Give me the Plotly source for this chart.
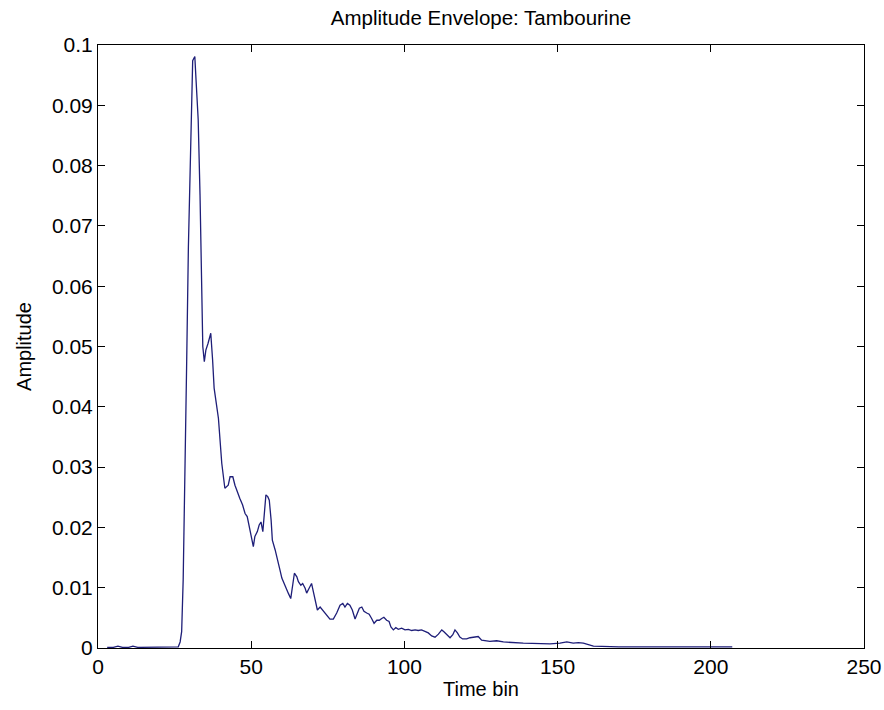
import plotly.graph_objects as go

time_bin = [3, 5, 6.5, 8, 10, 11.4, 13, 20, 26.2, 26.8, 27.3, 27.8, 28.4, 28.9, 29.5, 30.3, 30.9, 31.3, 31.6,
            32.0, 32.7, 33.3, 34.0, 34.2, 34.7, 35.2, 35.9, 36.8, 37.4, 37.9, 39.3, 40.4, 41.4, 42.5, 43.1,
            44.0, 44.7, 45.5, 46.3, 47.2, 48.0, 48.7, 49.4, 50.2, 50.7, 51.2, 52.0, 52.6, 53.2, 53.8, 54.3,
            54.8, 55.4, 55.9, 56.5, 56.9, 57.8, 58.5, 59.4, 60.0, 60.7, 61.4, 62.1, 62.9, 63.4, 64.1, 64.9,
            65.4, 66.2, 66.8, 67.6, 68.1, 68.9, 69.7, 70.3, 70.8, 71.6, 72.5, 73.3, 74.1, 74.8, 75.7, 76.8,
            77.9, 79.0, 79.9, 80.6, 81.4, 82.2, 83.0, 83.9, 84.6, 85.3, 86.1, 86.8, 87.7, 88.5, 89.3, 90.1,
            91.0, 91.8, 92.6, 93.3, 94.2, 95.0, 95.6, 96.4, 97.2, 98.0, 99.1, 100.2, 101.3, 102.4, 103.5,
            104.5, 105.6, 106.7, 107.8, 108.9, 110.0, 111.1, 112.2, 112.9, 113.8, 114.9, 115.8, 116.5, 117.3,
            118.1, 119.0, 120.3, 121.4, 123.0, 124.1, 125.2, 127.9, 130.1, 132.3, 138.8, 147.5, 150.8, 153.0,
            155.1, 156.8, 158.4, 161.7, 170, 180, 184, 186, 190, 194, 197, 200, 204, 207]

amplitude = [0.0001, 0.0001, 0.0003, 0.0001, 0.0001, 0.0003, 0.0001, 0.0001, 0.0002, 0.0010, 0.0027, 0.0113,
             0.0279, 0.0461, 0.0665, 0.0867, 0.0974, 0.0978, 0.0981,
             0.0942, 0.0876, 0.0751, 0.0597, 0.0500, 0.0475, 0.0494, 0.0505, 0.0522, 0.0478, 0.0431, 0.0381,
             0.0306, 0.0265, 0.0270, 0.0284,
             0.0284, 0.0270, 0.0257, 0.0248, 0.0237, 0.0223, 0.0218, 0.0201, 0.0185, 0.0168, 0.0185, 0.0193,
             0.0204, 0.0209, 0.0193, 0.0226,
             0.0254, 0.0251, 0.0245, 0.0212, 0.0179, 0.0163, 0.0146, 0.0129, 0.0116, 0.0107, 0.0099, 0.0091,
             0.0082, 0.0099, 0.0124, 0.0118,
             0.0110, 0.0104, 0.0107, 0.0099, 0.0091, 0.0099, 0.0107, 0.0093, 0.0080, 0.0063, 0.0068, 0.0063,
             0.0058, 0.0052, 0.0048, 0.0048,
             0.0058, 0.0071, 0.0074, 0.0068, 0.0074, 0.0071, 0.0063, 0.0048, 0.0058, 0.0066, 0.0068, 0.0061,
             0.0058, 0.0056, 0.0049, 0.0041,
             0.0046, 0.0046, 0.0049, 0.0051, 0.0046, 0.0044, 0.0035, 0.0030, 0.0034, 0.0031, 0.0033, 0.0030,
             0.0031, 0.0029, 0.0030,
             0.0029, 0.0030, 0.0027, 0.0025, 0.0020, 0.0018, 0.0023, 0.0030, 0.0027, 0.0022, 0.0017, 0.0022,
             0.0030, 0.0025,
             0.0018, 0.0015, 0.0015, 0.0017, 0.0018, 0.0019, 0.0013, 0.0011, 0.0012, 0.0010, 0.0008, 0.0007,
             0.0008, 0.0010,
             0.0008, 0.0009, 0.0008, 0.0003, 0.0002, 0.0002, 0.0003, 0.0002, 0.0003, 0.0003, 0.0002, 0.0003,
             0.0003, 0.0002]

x_ticks = [0, 50, 100, 150, 200, 250]
y_ticks = [0, 0.01, 0.02, 0.03, 0.04, 0.05, 0.06, 0.07, 0.08, 0.09, 0.1]
y_tick_labels = ["0", "0.01", "0.02", "0.03", "0.04", "0.05", "0.06", "0.07", "0.08", "0.09", "0.1"]

FONT = "Liberation Sans, Arial, sans-serif"

fig = go.Figure()
fig.add_trace(go.Scatter(x=time_bin, y=amplitude, mode="lines",
                         line=dict(color="rgb(30,30,120)", width=1.3), showlegend=False))

fig.update_layout(
    width=884, height=710,
    margin=dict(l=98, r=20, t=45, b=62),
    paper_bgcolor="white", plot_bgcolor="white",
    title=dict(text="Amplitude Envelope: Tambourine", x=0.5, xanchor="center",
               xref="paper", y=1 - 18 / 710, yanchor="middle",
               font=dict(family=FONT, size=20.5, color="black")),
    font=dict(family=FONT, size=21, color="black"),
)
fig.update_xaxes(range=[0, 250], tickvals=x_ticks, ticks="inside", ticklen=7, tickcolor="black",
                 showline=True, linecolor="black", linewidth=1, mirror="ticks", showgrid=False,
                 zeroline=False, tickfont=dict(family=FONT, size=21), automargin=False,
                 title=dict(text="Time bin", font=dict(family=FONT, size=20), standoff=4))
fig.update_yaxes(range=[0, 0.1], tickvals=y_ticks, ticktext=y_tick_labels, ticks="inside", ticklen=7,
                 tickcolor="black", showline=True, linecolor="black", linewidth=1, mirror="ticks",
                 showgrid=False, zeroline=False, tickfont=dict(family=FONT, size=21), automargin=False,
                 title=dict(text="Amplitude", font=dict(family=FONT, size=20), standoff=14))

fig.write_html("out.html")
